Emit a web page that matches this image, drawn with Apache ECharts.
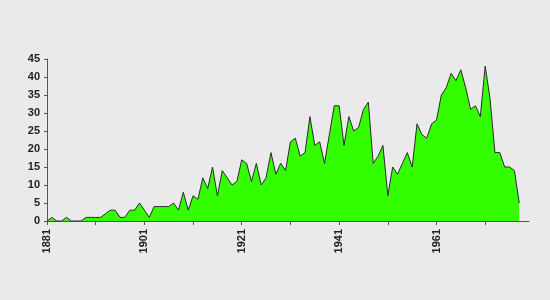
<!DOCTYPE html>
<html>
<head>
<meta charset="utf-8">
<script src="https://cdn.jsdelivr.net/npm/echarts@6/dist/echarts.min.js"></script>
<style>
html,body{margin:0;padding:0;background:#eaeaea;}
#c{width:550px;height:300px;}
</style>
</head>
<body>
<div id="c"></div>
<script>
var startYear = 1881;
var endYear = 1980;
var years = [];
for (var y = startYear; y <= endYear; y++) years.push(String(y));

var counts = [
  0, 1, 0, 0, 1, 0, 0, 0, 1, 1,
  1, 1, 2, 3, 3, 1, 1, 3, 3, 5,
  3, 1, 4, 4, 4, 4, 5, 3, 8, 3,
  7, 6, 12, 9, 15, 7, 14, 12, 10, 11,
  17, 16, 11, 16, 10, 12, 19, 13, 16, 14,
  22, 23, 18, 19, 29, 21, 22, 16, 24, 32,
  32, 21, 29, 25, 26, 31, 33, 16, 18, 21,
  7, 15, 13, 16, 19, 15, 27, 24, 23, 27,
  28, 35, 37, 41, 39, 42, 37, 31, 32, 29,
  43, 34, 19, 19, 15, 15, 14, 5, null, null
];

var yMax = 45;
var yStep = 5;

var chart = echarts.init(document.getElementById('c'), null, {renderer: 'canvas'});
chart.setOption({
  backgroundColor: '#eaeaea',
  animation: false,
  grid: {left: 47, right: 21, top: 59, bottom: 79, containLabel: false},
  xAxis: {
    type: 'category',
    data: years,
    boundaryGap: false,
    axisLine: {show: true, lineStyle: {color: '#555', width: 1}},
    axisTick: {show: true, interval: 9, length: 4, lineStyle: {color: '#555'}},
    axisLabel: {
      interval: 19, rotate: 90, margin: 8,
      color: '#222', fontWeight: 'bold', fontSize: 11,
      fontFamily: 'Liberation Sans, Arial, sans-serif'
    },
    splitLine: {show: false}
  },
  yAxis: {
    type: 'value',
    min: 0, max: yMax, interval: yStep,
    axisLine: {show: true, lineStyle: {color: '#555', width: 1}},
    axisTick: {show: true, length: 3, lineStyle: {color: '#555'}},
    axisLabel: {
      margin: 7, color: '#222', fontWeight: 'bold', fontSize: 11,
      fontFamily: 'Liberation Sans, Arial, sans-serif'
    },
    splitLine: {show: false}
  },
  series: [{
    type: 'line',
    data: counts,
    showSymbol: false,
    symbol: 'none',
    connectNulls: false,
    lineStyle: {color: '#2a2a2a', width: 1},
    areaStyle: {color: '#33ff00', opacity: 1}
  }]
});
</script>
</body>
</html>
